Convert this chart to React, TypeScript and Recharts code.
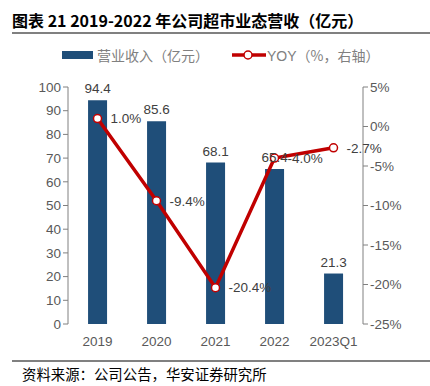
import { Bar, ComposedChart, LabelList, Line, XAxis, YAxis } from 'recharts';

const years = ['2019', '2020', '2021', '2022', '2023Q1'];
const revenue = [94.4, 85.6, 68.1, 65.4, 21.3];
const yoy = [1.0, -9.4, -20.4, -4.0, -2.7];
const leftTicks = [0, 10, 20, 30, 40, 50, 60, 70, 80, 90, 100];
const rightTicks = [-25, -20, -15, -10, -5, 0, 5];
const edgeTicks = [0, 1, 2, 3, 4, 5];

const data = years.map((y, i) => ({ year: y, rev: revenue[i], yoy: yoy[i] }));

const NAVY = '#1f4e79';
const RED = '#c00000';
const AXIS = '#808080';
const TICK = '#595959';
const LATIN = '"Liberation Sans", Arial, "Noto Sans CJK SC", sans-serif';
const CJK = '"Noto Sans CJK SC", sans-serif';

export default function App() {
  return (
    <div style={{ position: 'absolute', left: 0, top: 0, width: 430, height: 386, background: '#fff', fontFamily: LATIN }}>
      <div style={{ position: 'absolute', left: 12, top: 10, fontSize: 16, fontWeight: 'bold', color: '#000', fontFamily: CJK, lineHeight: '20px', whiteSpace: 'nowrap' }}>
        图表 21 2019-2022 年公司超市业态营收（亿元）
      </div>
      <div style={{ position: 'absolute', left: 12, top: 32, width: 418, height: 2, background: AXIS }} />

      {/* legend */}
      <div style={{ position: 'absolute', left: 62, top: 51, width: 31, height: 8, background: NAVY }} />
      <div style={{ position: 'absolute', left: 97, top: 45, fontSize: 14, color: AXIS, fontFamily: CJK, lineHeight: '20px', whiteSpace: 'nowrap' }}>
        营业收入（亿元）
      </div>
      <svg style={{ position: 'absolute', left: 230, top: 47 }} width={38} height={16}>
        <line x1={2} y1={8} x2={36} y2={8} stroke={RED} strokeWidth={3.5} />
        <circle cx={18} cy={8} r={4} fill="#fff" stroke={RED} strokeWidth={1.5} />
      </svg>
      <div style={{ position: 'absolute', left: 267, top: 45, fontSize: 14, color: AXIS, lineHeight: '20px', whiteSpace: 'nowrap' }}>
        YOY<span style={{ fontFamily: CJK }}>（%，右轴）</span>
      </div>

      <div style={{ position: 'absolute', left: 0, top: 0 }}>
        <ComposedChart width={430} height={386} data={data} margin={{ top: 87, right: 17, bottom: 32, left: 28 }} barCategoryGap="34%">
          <XAxis
            xAxisId="edge"
            type="number"
            domain={[0, 5]}
            ticks={edgeTicks}
            tick={false}
            height={0}
            stroke={AXIS}
            tickSize={5}
          />
          <XAxis
            dataKey="year"
            xAxisId="cat"
            height={30}
            axisLine={false}
            tickLine={false}
            tick={{ fill: TICK, fontSize: 13.5, fontFamily: LATIN }}
            tickMargin={6}
            interval={0}
          />
          <YAxis
            yAxisId="left"
            domain={[0, 100]}
            ticks={leftTicks}
            width={40}
            stroke={AXIS}
            tickSize={5}
            tick={{ fill: TICK, fontSize: 13.5, fontFamily: LATIN }}
            interval={0}
          />
          <YAxis
            yAxisId="right"
            orientation="right"
            domain={[-25, 5]}
            ticks={rightTicks}
            width={50}
            stroke={AXIS}
            tickSize={5}
            tick={{ fill: TICK, fontSize: 13.5, fontFamily: LATIN }}
            tickFormatter={(v: number) => `${v}%`}
            interval={0}
          />
          <Bar dataKey="rev" xAxisId="cat" yAxisId="left" fill={NAVY} isAnimationActive={false}>
            <LabelList dataKey="rev" position="top" offset={7} fill="#404040" fontSize={13.5} fontFamily={LATIN} formatter={(v: number) => v.toFixed(1)} />
          </Bar>
          <Line
            dataKey="yoy"
            xAxisId="cat"
            yAxisId="right"
            stroke={RED}
            strokeWidth={3.5}
            dot={{ r: 4, fill: '#fff', stroke: RED, strokeWidth: 1.5 }}
            isAnimationActive={false}
          >
            <LabelList dataKey="yoy" position="right" offset={13} fill="#404040" fontSize={13.5} fontFamily={LATIN} formatter={(v: number) => `${v.toFixed(1)}%`} />
          </Line>
        </ComposedChart>
      </div>

      <div style={{ position: 'absolute', left: 12, top: 360, width: 418, height: 2, background: AXIS }} />
      <div style={{ position: 'absolute', left: 22, top: 364, fontSize: 14.4, color: '#000', fontFamily: CJK, lineHeight: '20px', whiteSpace: 'nowrap' }}>
        资料来源：公司公告，华安证券研究所
      </div>
    </div>
  );
}
